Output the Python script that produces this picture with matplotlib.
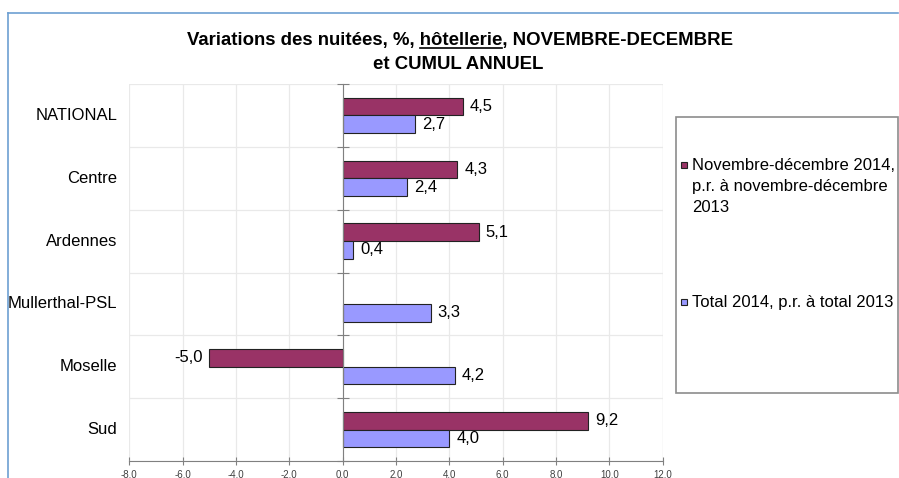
import numpy as np
import matplotlib
matplotlib.use('Agg')
import matplotlib.pyplot as plt
import matplotlib.transforms as mtransforms
from matplotlib.patches import Rectangle
from matplotlib.lines import Line2D

regions = ['NATIONAL', 'Centre', 'Ardennes', 'Mullerthal-PSL', 'Moselle', 'Sud']
nov_dec = [4.5, 4.3, 5.1, np.nan, -5.0, 9.2]
total = [2.7, 2.4, 0.4, 3.3, 4.2, 4.0]
legend_labels = ['Novembre-décembre 2014,\np.r. à novembre-décembre\n2013',
                 'Total 2014, p.r. à total 2013']
xticks = np.arange(-8, 13, 2)
title_1 = 'Variations des nuitées, %, hôtellerie, NOVEMBRE-DECEMBRE'
title_2 = 'et CUMUL ANNUEL'
underlined = 'hôtellerie'

c_nov = '#993366'
c_tot = '#9999ff'
plt.rcParams['font.family'] = ['Liberation Sans', 'DejaVu Sans']

W, H = 899, 478
fig = plt.figure(figsize=(W / 100, H / 100), dpi=100)

def fx(px):
    return px / W

def fy(py):
    return 1 - py / H

ax = fig.add_axes([fx(129.3), fy(461), fx(662.7) - fx(129.3), fy(84) - fy(461)])

y = np.arange(len(regions))
h = 0.28
ax.barh(y - h / 2, nov_dec, h, color=c_nov, edgecolor='#222222', linewidth=0.8, zorder=2)
ax.barh(y + h / 2, total, h, color=c_tot, edgecolor='#222222', linewidth=0.8, zorder=2)

ax.set_xlim(-8, 12)
ax.set_ylim(len(regions) - 0.5, -0.5)
ax.set_xticks(xticks)
ax.set_xticklabels([f'{v:.1f}'.replace('.', ',') for v in xticks],
                   fontsize=7, color='#404040')
ax.set_yticks(np.arange(-0.5, len(regions), 1))
ax.set_yticklabels([])
ax.tick_params(axis='x', direction='inout', length=6, color='#808080', pad=3)
ax.tick_params(axis='y', direction='inout', length=8, color='#808080')

for s in ['top', 'right']:
    ax.spines[s].set_visible(False)
ax.spines['left'].set_position(('data', 0))
ax.spines['left'].set_color('#808080')
ax.spines['bottom'].set_color('#808080')
ax.spines['left'].set_zorder(3)

ax.grid(True, color='#e9e9e9', linewidth=0.9)
ax.set_axisbelow(True)
ax.axvline(12, color='#e9e9e9', linewidth=0.9, zorder=0)

trans = mtransforms.blended_transform_factory(ax.transAxes, ax.transData)
for yi, name in zip(y, regions):
    ax.text(-12 / 533.4, yi, name, transform=trans, ha='right', va='center',
            fontsize=12, color='#000000')

def label(vals, offset):
    for yi, v in zip(y, vals):
        if np.isnan(v):
            continue
        txt = f'{v:.1f}'.replace('.', ',')
        dx = 7 if v >= 0 else -7
        ax.annotate(txt, (v, yi + offset), xytext=(dx, 0), textcoords='offset pixels',
                    ha='left' if v >= 0 else 'right', va='center', fontsize=12)

label(nov_dec, -h / 2)
label(total, h / 2)

# title with underlined word
tsize = 13.4
t1 = fig.text(fx(460), fy(45), title_1, ha='center', va='baseline',
              fontsize=tsize, weight='bold')
fig.text(fx(458), fy(69), title_2, ha='center', va='baseline',
         fontsize=tsize, weight='bold')
renderer = fig.canvas.get_renderer()
bb = t1.get_window_extent(renderer)
pre = title_1[:title_1.index(underlined) + len(underlined)]
tmp = fig.text(0, 0, pre, fontsize=tsize, weight='bold')
w_pre = tmp.get_window_extent(renderer).width
tmp.remove()
tmp = fig.text(0, 0, underlined, fontsize=tsize, weight='bold')
w_word = tmp.get_window_extent(renderer).width
tmp.remove()
x_end = bb.x0 + w_pre
x_start = x_end - w_word
y_line = (H - 45 - 2.5) / H
fig.add_artist(Line2D([x_start / W, x_end / W], [y_line, y_line],
                      transform=fig.transFigure, color='black', linewidth=1.2))

# outer blue frame
fig.add_artist(Line2D([fx(8), fx(898)], [fy(13), fy(13)], transform=fig.transFigure,
                      color='#6d9fd2', linewidth=1.2))
fig.add_artist(Line2D([fx(8), fx(8)], [fy(13), 0], transform=fig.transFigure,
                      color='#6d9fd2', linewidth=1.2))

# legend
fig.add_artist(Rectangle((fx(675.7), fy(393.3)), fx(898) - fx(675.7), fy(117.3) - fy(393.3),
                         transform=fig.transFigure, facecolor='white', edgecolor='#8c8c8c',
                         linewidth=1.2))
for (col, lab, ly) in [(c_nov, legend_labels[0], 165), (c_tot, legend_labels[1], 302)]:
    fig.add_artist(Rectangle((fx(680.5), fy(ly + 3)), fx(6.5), fy(0) - fy(6.5),
                             transform=fig.transFigure, facecolor=col, edgecolor='#222222',
                             linewidth=0.8))
    for k, line in enumerate(lab.split('\n')):
        fig.text(fx(692), fy(ly + 21 * k), line, ha='left', va='center', fontsize=12)

fig.savefig('out.png', dpi=100)
